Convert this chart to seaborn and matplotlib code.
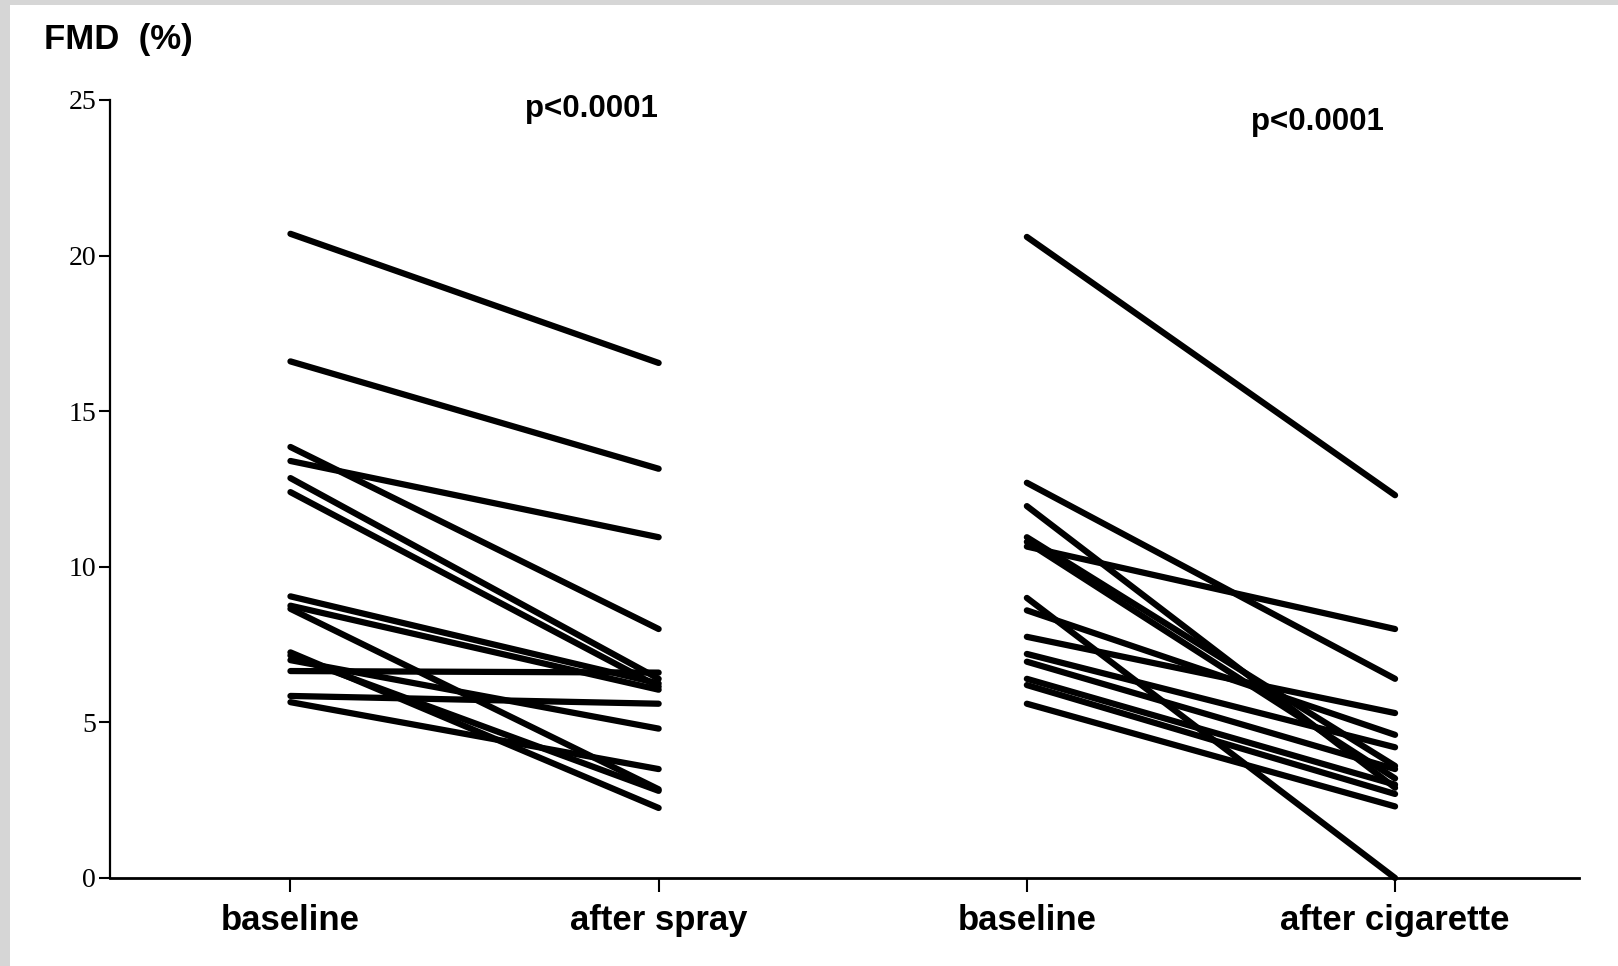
import pandas as pd
import matplotlib
matplotlib.use("Agg")
import matplotlib.pyplot as plt
import seaborn as sns
from matplotlib.patches import Rectangle

# FMD (%) per subject
spray_baseline = [20.7, 16.6, 13.85, 13.4, 12.85, 12.4, 9.05, 8.75, 8.65, 7.25, 7.15, 7.0, 6.65, 5.85, 5.65]
spray_after = [16.55, 13.15, 8.0, 10.95, 6.4, 6.15, 6.25, 6.05, 2.85, 2.25, 2.8, 4.8, 6.6, 5.6, 3.5]
cig_baseline = [20.6, 12.7, 11.95, 10.95, 10.8, 10.65, 9.0, 8.6, 7.75, 7.2, 6.95, 6.4, 6.2, 5.6]
cig_after = [12.3, 6.4, 2.9, 3.6, 3.2, 8.0, 0.0, 4.6, 5.3, 4.2, 3.5, 3.0, 2.7, 2.3]
conditions = ["baseline", "after spray", "baseline", "after cigarette"]
p_labels = ["p<0.0001", "p<0.0001"]
y_ticks = [0, 5, 10, 15, 20, 25]

# long table: one row per subject per condition
rows = []
for i, (b, a) in enumerate(zip(spray_baseline, spray_after)):
    rows.append({"subject": f"s{i}", "pos": 0, "fmd": b})
    rows.append({"subject": f"s{i}", "pos": 1, "fmd": a})
for i, (b, a) in enumerate(zip(cig_baseline, cig_after)):
    rows.append({"subject": f"c{i}", "pos": 2, "fmd": b})
    rows.append({"subject": f"c{i}", "pos": 3, "fmd": a})
df = pd.DataFrame(rows)

sns.set_style("ticks")
plt.rcParams["font.family"] = ["Liberation Sans", "DejaVu Sans"]
plt.rcParams["text.color"] = "black"

fig = plt.figure(figsize=(16.18, 9.66), dpi=100, facecolor="white")
# grey scan border on the left and top
for rect in [(0, 0, 10 / 1618, 1), (0, 1 - 5 / 966, 1, 5 / 966)]:
    fig.patches.append(Rectangle(rect[:2], rect[2], rect[3], transform=fig.transFigure,
                                 facecolor="#d6d6d6", edgecolor="none"))
ax = fig.add_axes([0.068, 0.0911, 0.908, 0.8054])

sns.lineplot(data=df, x="pos", y="fmd", units="subject", estimator=None,
             color="black", lw=4.5, solid_capstyle="round", ax=ax, legend=False)
for line in ax.get_lines():
    line.set_clip_on(False)

ax.set_xlim(-0.49, 3.5)
ax.set_ylim(0, 25)
ax.set_xlabel("")
ax.set_ylabel("")
sns.despine(ax=ax)
ax.spines["left"].set_linewidth(1.6)
ax.spines["bottom"].set_linewidth(2.0)
ax.spines["left"].set_color("black")
ax.spines["bottom"].set_color("black")

ax.set_xticks(range(4))
ax.set_xticklabels(conditions, fontsize=25, fontweight="bold")
ax.set_yticks(y_ticks)
ax.set_yticklabels([str(t) for t in y_ticks], fontsize=20, family=["Liberation Serif", "DejaVu Serif"])
ax.tick_params(axis="x", length=10, width=1.5, pad=9, colors="black")
ax.tick_params(axis="y", length=8, width=1.5, pad=2, colors="black")

ax.text(0.818, 24.7, p_labels[0], ha="center", va="center", fontsize=22.5, fontweight="bold")
ax.text(2.79, 24.3, p_labels[1], ha="center", va="center", fontsize=22.5, fontweight="bold")
fig.text(44 / 1618, 1 - 39 / 966, "FMD  (%)", ha="left", va="center", fontsize=25, fontweight="bold")

fig.savefig("out.png", dpi=100)
